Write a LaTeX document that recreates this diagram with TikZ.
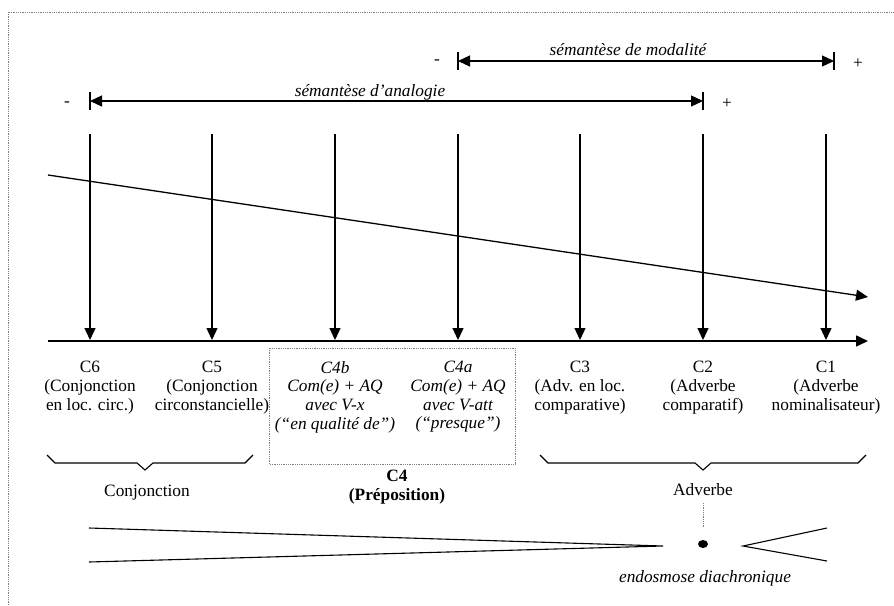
\documentclass[tikz,border=0pt]{standalone}
\usepackage{fontspec}
\setmainfont{Liberation Serif}
\usetikzlibrary{arrows.meta}

\newcommand{\taille}{\fontsize{17.3}{18.7}\selectfont}

\begin{document}
\begin{tikzpicture}[x=1pt, y=-1pt,
	every node/.style={font=\taille, inner sep=0pt},
	fleche/.style={line width=1.3pt, -{Triangle[length=12pt,width=11pt]}},
	portee/.style={line width=1.3pt, {Triangle[length=12pt,width=11pt]}-{Triangle[length=12pt,width=11pt]}},
	trait/.style={line width=1.1pt},
	cadre/.style={gray, densely dotted, line width=0.8pt},
	colonne/.style={align=center, anchor=north}]
	\useasboundingbox (0,0) rectangle (894,605);
	\draw[cadre] (8,605) -- (8,12) -- (894,12);
	% semanteses
	\coordinate (ana-g) at (90,101);
	\coordinate (ana-d) at (703,101);
	\coordinate (mod-g) at (458,61);
	\coordinate (mod-d) at (834,61);
	\draw[portee] (ana-g) -- (ana-d);
	\draw[portee] (mod-g) -- (mod-d);
	\foreach \p in {ana-g,ana-d,mod-g,mod-d}
		\draw[line width=1.1pt] ([yshift=-9pt]\p) -- ([yshift=9pt]\p);
	\node[font=\taille\itshape, anchor=base] (ana) at (370,96) {sémantèse d’analogie};
	\node[font=\taille\itshape, anchor=base] (mod) at (628,55) {sémantèse de modalité};
	\node (ana-moins) at (67,104) {-};
	\node (ana-plus) at (727,104) {+};
	\node (mod-moins) at (437,62) {-};
	\node (mod-plus) at (858,64) {+};
	% fleches verticales
	\foreach \x/\n in {90/c6,212/c5,335/c4b,458/c4a,580/c3,703/c2,826/c1}{
		\coordinate (\n-h) at (\x,134);
		\coordinate (\n-b) at (\x,340);
		\draw[fleche] (\n-h) -- (\n-b);
	}
	\coordinate (axe-g) at (48,341);
	\coordinate (axe-d) at (868,341);
	\draw[fleche, line width=1.6pt] (axe-g) -- (axe-d);
	\coordinate (pente-g) at (48,175);
	\coordinate (pente-d) at (868,297);
	\draw[fleche] (pente-g) -- (pente-d);
	% categories
	\node[colonne] (l-c6) at (90,361) {C6\\(Conjonction\\en loc. circ.)};
	\node[colonne] (l-c5) at (212,361) {C5\\(Conjonction\\circonstancielle)};
	\node[colonne, font=\taille\itshape] (l-c4b) at (335,361) {C4b\\Com(e) + AQ\\avec V-x\\(“en qualité de”)};
	\node[colonne, font=\taille\itshape] (l-c4a) at (458,361) {C4a\\Com(e) + AQ\\avec V-att\\(“presque”)};
	\node[colonne] (l-c3) at (580,361) {C3\\(Adv. en loc.\\comparative)};
	\node[colonne] (l-c2) at (703,361) {C2\\(Adverbe\\comparatif)};
	\node[colonne] (l-c1) at (826,361) {C1\\(Adverbe\\nominalisateur)};
	\draw[cadre] (269,348) rectangle (515,464);
	% accolades
	\draw[trait] (47,455) -- (55,463) -- (137,463) -- (145,470) -- (153,463) -- (245,463) -- (253,455);
	\draw[trait] (540,455) -- (548,463) -- (695,463) -- (703,470) -- (711,463) -- (858,463) -- (866,455);
	\node[anchor=base] (conj) at (147,496) {Conjonction};
	\node[colonne, font=\taille\bfseries] (prep) at (397,470) {C4\\(Préposition)};
	\node[anchor=base] (adv) at (703,495) {Adverbe};
	% endosmose
	\coordinate (adv-b) at (703,503);
	\coordinate (point-h) at (703,528);
	\draw[cadre] (adv-b) -- (point-h);
	\coordinate (point) at (703,544);
	\fill (point) ellipse (5 and 4);
	\coordinate (ent-h) at (89,528);
	\coordinate (ent-b) at (89,562);
	\coordinate (bec) at (663,546);
	\draw[trait] (ent-h) -- (bec) -- (ent-b);
	\coordinate (bras-h) at (827,528);
	\coordinate (bras-b) at (827,561);
	\coordinate (coin) at (743,546);
	\draw[trait] (bras-h) -- (coin) -- (bras-b);
	\node[font=\taille\itshape, anchor=base] (endo) at (705,582) {endosmose diachronique};
\end{tikzpicture}
\end{document}
